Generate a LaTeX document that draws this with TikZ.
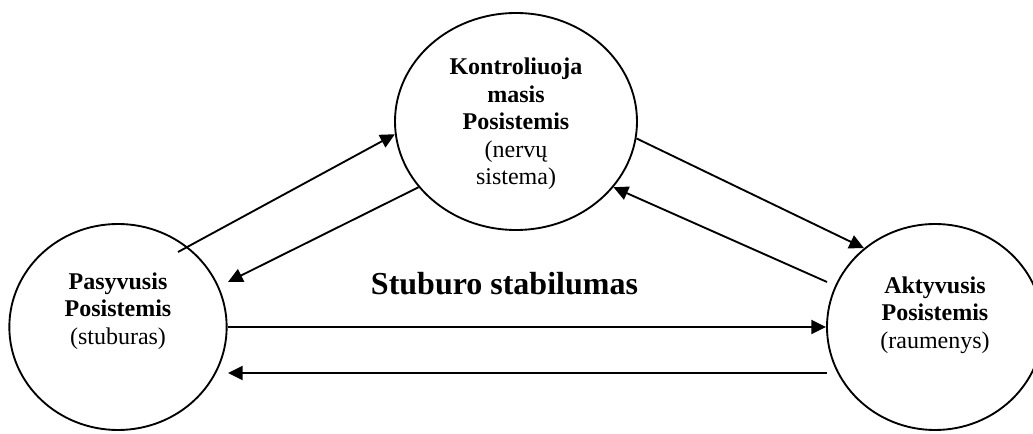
\documentclass[tikz,border=0pt]{standalone}
\usepackage{fontspec}
\setmainfont{Liberation Serif}
\usetikzlibrary{shapes.geometric,arrows.meta}
\begin{document}
\begin{tikzpicture}[x=0.75pt,y=-0.75pt,
  bubble/.style={draw,ellipse,line width=1.4pt,inner sep=0pt,minimum width=#1},
  bubtext/.style={align=center,font=\fontsize{18}{20.7}\selectfont,inner sep=0pt},
  link/.style={line width=1.4pt,-{Triangle[length=11pt,width=10.5pt]}}]
\useasboundingbox (0,0) rectangle (1033,434);
% circles
\node[bubble=181.5pt,minimum height=162.75pt] (T) at (516,121.5) {};
\node[bubble=163pt,minimum height=154.5pt] (L) at (118,327) {};
\node[bubble=162pt,minimum height=154.5pt] (R) at (935,327) {};
% texts
\node[bubtext] (tT) at (516,124) {\textbf{Kontroliuoja}\\\textbf{masis}\\\textbf{Posistemis}\\(nervų\\sistema)};
\node[bubtext] (tL) at (118,311) {\textbf{Pasyvusis}\\\textbf{Posistemis}\\(stuburas)};
\node[bubtext] (tR) at (935,315) {\textbf{Aktyvusis}\\\textbf{Posistemis}\\(raumenys)};
\node[anchor=base,inner sep=0pt,font=\fontsize{24}{28}\selectfont\bfseries] (title) at (504.5,295) {Stuburo stabilumas};
% free ends
\coordinate (a1) at (178,252);
\coordinate (a2) at (228,282);
\coordinate (a4) at (827,282);
\coordinate (a6s) at (827,373);
\coordinate (a6e) at (228,373);
% connectors
\draw[link] (a1) -- (T.186);
\draw[link] (T.214) -- (a2);
\draw[link] (T.-8) -- (R.132);
\draw[link] (a4) -- (T.-34);
\draw[link] (L.east) -- (R.west);
\draw[link] (a6s) -- (a6e);
\end{tikzpicture}
\end{document}
